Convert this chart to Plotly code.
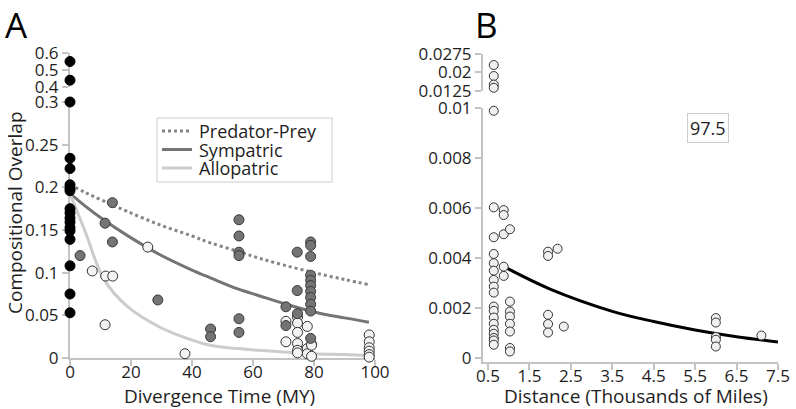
import plotly.graph_objects as go

W, H = 796, 409

# ---------------- Panel A data ----------------
# Predator-prey (black, x = 0)
pp_y_low = [0.30, 0.234, 0.222, 0.203, 0.199, 0.196, 0.175, 0.170, 0.164, 0.159,
            0.153, 0.149, 0.139, 0.108, 0.075, 0.053]
pp_y_high = [0.55, 0.44]

# Sympatric (gray)
sym_x = [3.3, 13.9, 11.5, 13.9, 28.8, 46.1, 46.1, 55.4, 55.4, 55.4, 55.4, 55.4, 55.4,
         74.5, 78.9, 78.9, 78.9, 74.5, 78.9, 78.9, 78.9, 78.9, 78.9, 78.9, 78.9,
         70.8, 70.8, 74.6, 78.9]
sym_y = [0.120, 0.182, 0.158, 0.136, 0.068, 0.034, 0.025, 0.162, 0.143, 0.124, 0.120, 0.046, 0.030,
         0.124, 0.136, 0.132, 0.119, 0.079, 0.097, 0.091, 0.085, 0.078, 0.071, 0.063, 0.055,
         0.060, 0.038, 0.052, 0.023]

# Allopatric (open)
allo_x = [25.5, 7.3, 11.7, 14.0, 11.5, 37.7,
          70.8, 70.8, 74.6, 74.6, 74.6, 74.6, 74.6, 74.6,
          77.8, 77.8, 77.8, 79.2, 79.2, 79.2,
          98.1, 98.1, 98.1, 98.1, 98.1, 98.1]
allo_y = [0.130, 0.102, 0.096, 0.096, 0.039, 0.005,
          0.043, 0.019, 0.048, 0.041, 0.030, 0.017, 0.009, 0.006,
          0.037, 0.011, 0.005, 0.016, 0.015, 0.002,
          0.027, 0.019, 0.012, 0.008, 0.004, 0.001]

# Fitted curves
fit_x = [0, 5, 11, 18.6, 29.5, 40, 46, 55, 62, 70, 80, 90, 98]
fit_pp = [0.203, 0.194, 0.184, 0.172, 0.156, 0.143, 0.135, 0.125, 0.117, 0.109, 0.100, 0.092, 0.086]
fit_sym = [0.193, 0.178, 0.162, 0.144, 0.121, 0.103, 0.094, 0.081, 0.073, 0.064, 0.054, 0.047, 0.042]
fit_allo = [0.192, 0.148, 0.093, 0.061, 0.036, 0.021, 0.015, 0.011, 0.009, 0.007, 0.005, 0.004, 0.003]
legend_names = ["Predator-Prey", "Sympatric", "Allopatric"]

# ---------------- Panel B data ----------------
dist_x = [0.64] * 17 + [0.88] * 5 + [1.03] * 8 + [1.95] * 5 + [2.18, 2.33] + [6.0] * 5 + [7.1]
dist_y = [0.00603, 0.00483, 0.00416, 0.00379, 0.00349, 0.00312, 0.00285, 0.00261, 0.00205,
          0.00188, 0.00161, 0.00136, 0.00112, 0.00096, 0.00079, 0.00069, 0.00052,
          0.00592, 0.00572, 0.00495, 0.00365, 0.00328,
          0.00515, 0.00225, 0.00185, 0.00165, 0.00136, 0.00105, 0.00039, 0.00025,
          0.00425, 0.00408, 0.00172, 0.00135, 0.00101,
          0.00437, 0.00125,
          0.00159, 0.00141, 0.00083, 0.00072, 0.00045,
          0.00089]
dist_x_low_extra = [0.64]
dist_y_low_extra = [0.0099]
dist_x_high = [0.64, 0.64, 0.64, 0.64]
dist_y_high = [0.0230, 0.0185, 0.0150, 0.0137]

bfit_x = [0.85, 2.0, 3.5, 4.5, 5.5, 6.5, 7.5]
bfit_y = [0.00368, 0.00275, 0.00186, 0.00145, 0.00111, 0.00084, 0.00063]
b_label = "97.5"

# tick labels
a_xticks = [0, 20, 40, 60, 80, 100]
a_ylow_ticks = [0, 0.05, 0.1, 0.15, 0.2, 0.25, 0.3]
a_ylow_text = ["0", "0.05", "0.1", "0.15", "0.2", "0.25", "0.3"]
a_yhigh_ticks = [0.4, 0.5, 0.6]
a_yhigh_text = ["0.4", "0.5", "0.6"]
b_xticks = [0.5, 1.5, 2.5, 3.5, 4.5, 5.5, 6.5, 7.5]
b_ylow_ticks = [0, 0.002, 0.004, 0.006, 0.008, 0.01]
b_ylow_text = ["0", "0.002", "0.004", "0.006", "0.008", "0.01"]
b_yhigh_ticks = [0.0125, 0.02, 0.0275]
b_yhigh_text = ["0.0125", "0.02", "0.0275"]


def px_x(p):
    return p / W


def px_y(p):
    return 1 - p / H


FONT = "Open Sans"
TXT = "#1e1e1e"
AX = "#c4c4c4"

BLACK = dict(color="#000000", size=10, line=dict(color="#000000", width=1))
GRAY = dict(color="#747474", size=10, line=dict(color="#3a3a3a", width=1))
OPEN = dict(color="#f3f3f3", size=10, line=dict(color="#333333", width=1))
OPENB = dict(color="#f0f0f0", size=9, line=dict(color="#333333", width=1))

curve_styles = [
    dict(color="#858585", width=3, dash="dot"),
    dict(color="#747474", width=3, dash="solid"),
    dict(color="#cccccc", width=3, dash="solid"),
]

fig = go.Figure()

# Panel A curves
for name, ys, st in zip(legend_names, [fit_pp, fit_sym, fit_allo], curve_styles):
    fig.add_trace(go.Scatter(x=fit_x, y=ys, mode="lines", name=name, showlegend=False,
                             line=dict(shape="spline", **st), xaxis="x", yaxis="y"))

fig.add_trace(go.Scatter(x=allo_x, y=allo_y, mode="markers", marker=OPEN, showlegend=False,
                         cliponaxis=False, xaxis="x", yaxis="y"))
fig.add_trace(go.Scatter(x=sym_x, y=sym_y, mode="markers", marker=GRAY, showlegend=False,
                         cliponaxis=False, xaxis="x", yaxis="y"))
fig.add_trace(go.Scatter(x=[0] * len(pp_y_low), y=pp_y_low, mode="markers", marker=BLACK,
                         showlegend=False, cliponaxis=False, xaxis="x", yaxis="y"))
fig.add_trace(go.Scatter(x=[0] * len(pp_y_high), y=pp_y_high, mode="markers", marker=BLACK,
                         showlegend=False, cliponaxis=False, xaxis="x", yaxis="y2"))

# Panel B
fig.add_trace(go.Scatter(x=bfit_x, y=bfit_y, mode="lines", showlegend=False,
                         line=dict(color="#000000", width=3, shape="spline"),
                         xaxis="x3", yaxis="y3"))
fig.add_trace(go.Scatter(x=dist_x + dist_x_low_extra, y=dist_y + dist_y_low_extra, mode="markers",
                         marker=OPENB, showlegend=False, cliponaxis=False,
                         xaxis="x3", yaxis="y3"))
fig.add_trace(go.Scatter(x=dist_x_high, y=dist_y_high, mode="markers",
                         marker=OPENB, showlegend=False, cliponaxis=False,
                         xaxis="x3", yaxis="y4"))

axis_common = dict(showline=True, linecolor=AX, linewidth=2, ticks="outside", ticklen=6,
                   tickwidth=1.5, tickcolor=AX, showgrid=False, zeroline=False,
                   automargin=False, layer="below traces",
                   tickfont=dict(family=FONT, size=17, color=TXT))
xaxis_extra = dict(ticklabelstandoff=-8)

fig.update_layout(
    template="none",
    width=W, height=H,
    margin=dict(l=0, r=0, t=0, b=0, autoexpand=False),
    paper_bgcolor="white", plot_bgcolor="rgba(0,0,0,0)",
    font=dict(family=FONT, color=TXT),
    showlegend=False,
    xaxis=dict(domain=[px_x(70), px_x(375)], range=[0, 100], anchor="y",
               tickvals=a_xticks, ticktext=[str(v) for v in a_xticks],
               **axis_common, **xaxis_extra),
    yaxis=dict(domain=[px_y(358), px_y(102)], range=[0, 0.3], anchor="x",
               tickvals=a_ylow_ticks, ticktext=a_ylow_text, **axis_common),
    yaxis2=dict(domain=[px_y(87), px_y(53)], range=[0.4, 0.6], anchor="x",
                tickvals=a_yhigh_ticks, ticktext=a_yhigh_text, **axis_common),
    xaxis3=dict(domain=[px_x(483), px_x(778)], range=[0.38, 7.5], anchor="y3",
                tickvals=b_xticks, ticktext=[str(v) for v in b_xticks],
                **axis_common, **xaxis_extra),
    yaxis3=dict(domain=[px_y(361.7), px_y(108.3)], range=[-0.00016, 0.01], anchor="x3",
                tickvals=b_ylow_ticks, ticktext=b_ylow_text, **axis_common),
    yaxis4=dict(domain=[px_y(90.7), px_y(54)], range=[0.0125, 0.0275], anchor="x3",
                tickvals=b_yhigh_ticks, ticktext=b_yhigh_text, **axis_common),
)

# Legend box (manual, compact like the reference)
shapes = [dict(type="rect", xref="paper", yref="paper",
               x0=px_x(157), x1=px_x(332), y0=px_y(182), y1=px_y(118),
               line=dict(color="#cccccc", width=1), fillcolor="white", layer="above")]
ann = []
for i, (name, st) in enumerate(zip(legend_names, curve_styles)):
    yc = 131 + i * 18.5
    shapes.append(dict(type="line", xref="paper", yref="paper",
                       x0=px_x(162), x1=px_x(192), y0=px_y(yc), y1=px_y(yc),
                       line=st, layer="above"))
    ann.append(dict(text=name, x=px_x(197), y=px_y(yc), xanchor="left", yanchor="middle",
                    font=dict(family=FONT, size=18, color=TXT)))

ann += [
    dict(text="A", x=px_x(16), y=px_y(24), xanchor="center", yanchor="middle",
         font=dict(family=FONT, size=35, color="#000")),
    dict(text="B", x=px_x(486), y=px_y(24), xanchor="center", yanchor="middle",
         font=dict(family=FONT, size=35, color="#000")),
    dict(text="Compositional Overlap", x=px_x(15), y=px_y(213), textangle=-90,
         xanchor="center", yanchor="middle", font=dict(family=FONT, size=19, color=TXT)),
    dict(text="Divergence Time (MY)", x=px_x(220), y=px_y(396), xanchor="center",
         yanchor="middle", font=dict(family=FONT, size=19, color=TXT)),
    dict(text="Distance (Thousands of Miles)", x=px_x(636), y=px_y(396), xanchor="center",
         yanchor="middle", font=dict(family=FONT, size=19, color=TXT)),
    dict(text=b_label, x=px_x(708), y=px_y(128), xanchor="center", yanchor="middle",
         bordercolor="#cccccc", borderwidth=1, borderpad=2, bgcolor="white",
         font=dict(family=FONT, size=18, color=TXT)),
]
for a in ann:
    a.update(xref="paper", yref="paper", showarrow=False)
fig.update_layout(annotations=ann, shapes=shapes)

fig.write_html("out.html",
               config=dict(displayModeBar=False),
               post_script="document.body.style.margin='0';document.body.style.padding='0';"
                           "document.body.style.overflow='hidden';")
